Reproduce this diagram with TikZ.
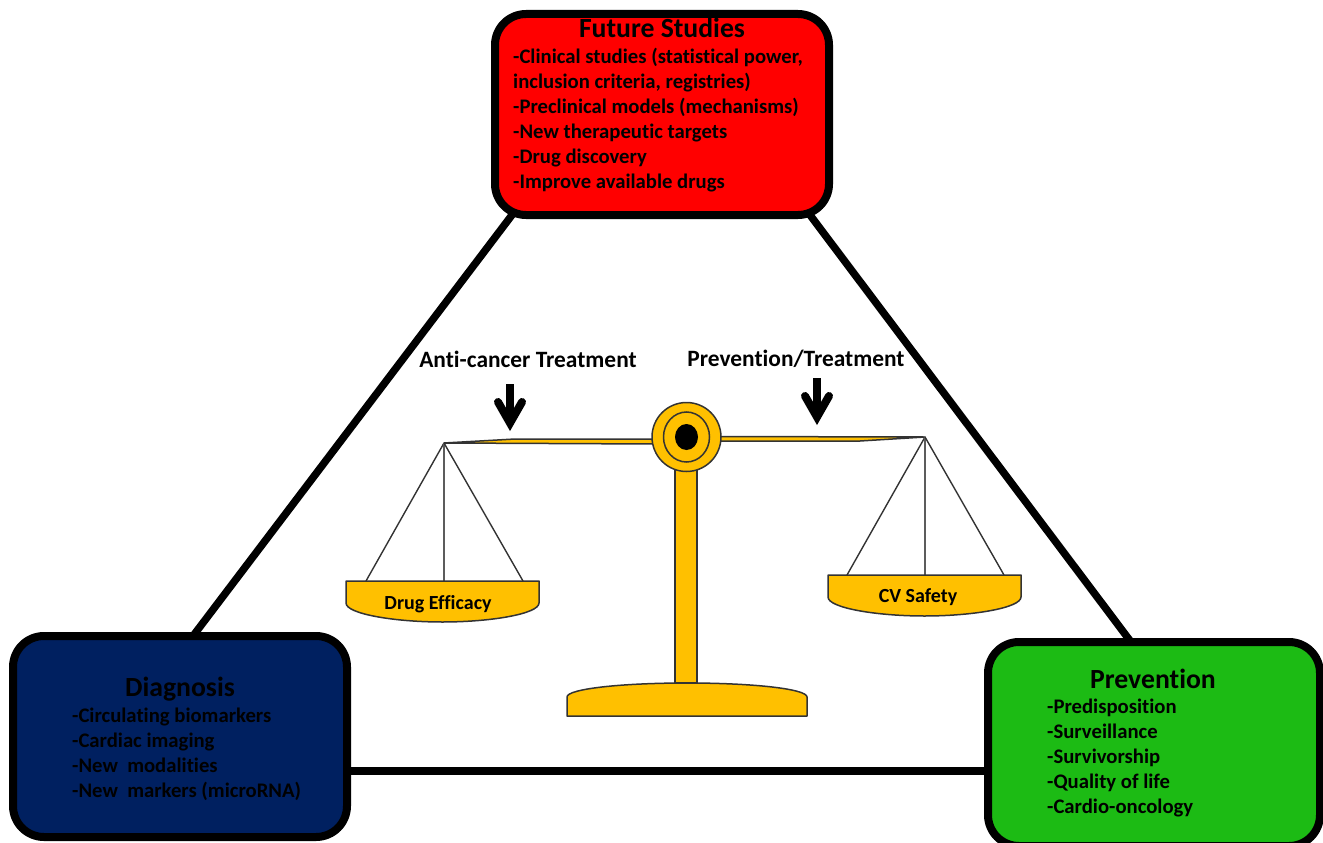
\documentclass[tikz,border=0pt]{standalone}
\usepackage{fontspec}
\setmainfont[Ligatures=NoCommon]{Carlito}
\usetikzlibrary{backgrounds,shapes.geometric}
\definecolor{boxred}{HTML}{FF0000}
\definecolor{boxblue}{HTML}{002060}
\definecolor{boxgreen}{HTML}{1CBB14}
\definecolor{gold}{HTML}{FFC000}
\definecolor{edge}{HTML}{333333}
\tikzset{
  panel/.style={draw=black,line width=8pt,rounded corners=31pt,inner sep=0pt,outer sep=0pt},
  link/.style={draw=black,line width=7.5pt},
  title/.style={inner sep=0pt,font=\fontsize{27.7}{32}\selectfont\bfseries},
  body/.style={inner sep=0pt,anchor=west,align=left,font=\fontsize{20.7}{25}\selectfont\bfseries},
  caption/.style={inner sep=0pt,font=\fontsize{23.4}{28}\selectfont\bfseries},
  pantext/.style={inner sep=0pt,font=\fontsize{20}{24}\selectfont\bfseries},
  metal/.style={fill=gold,draw=edge,line width=1.5pt,line join=round},
  wire/.style={draw=edge,line width=1.4pt},
  plumb/.style={draw=edge!80,line width=1.2pt},
  shaft/.style={draw=black,line width=8pt},
  pointer/.style={draw=black,line width=8pt,line cap=round,line join=miter}
}
\begin{document}
\begin{tikzpicture}[x=1pt,y=-1pt]
\useasboundingbox (0,0) rectangle (1323,843);
% panels
\node[panel,fill=boxred,minimum width=334pt,minimum height=201pt] (red) at (662,114.5) {};
\node[panel,fill=boxblue,minimum width=334pt,minimum height=201pt] (blue) at (180,736.5) {};
\node[panel,fill=boxgreen,minimum width=332pt,minimum height=204pt] (green) at (1154,744) {};
% connectors
\begin{pgfonlayer}{background}
\draw[link] ([xshift=17pt]red.south west) -- ([xshift=13pt]blue.north);
\draw[link] ([xshift=-19pt]red.south east) -- ([xshift=-23pt]green.north);
\draw[link] ([yshift=-34.5pt]blue.east) -- ([yshift=-27pt]green.west);
\end{pgfonlayer}
% panel texts
\node[title] (redtitle) at (662,28) {Future Studies};
\node[body] (redbody) at (513,120) {-Clinical studies (statistical power,\\inclusion criteria, registries)\\-Preclinical models (mechanisms)\\-New therapeutic targets\\-Drug discovery\\-Improve available drugs};
\node[title] (bluetitle) at (180,689) {Diagnosis};
\node[body] (bluebody) at (72,754.5) {-Circulating biomarkers\\-Cardiac imaging\\-New\ \ modalities\\-New\ \ markers (microRNA)};
\node[title] (greentitle) at (1153,679) {Prevention};
\node[body] (greenbody) at (1047,758) {-Predisposition\\-Surveillance\\-Survivorship\\-Quality of life\\-Cardio-oncology};
% balance
\coordinate (lefttip) at (444,443);
\coordinate (righttip) at (925,437);
\path[metal] (lefttip) -- (515,439) -- (655,439) -- (655,444) -- cycle;
\path[metal] (righttip) -- (860,441) -- (715,441) -- (715,436.5) -- cycle;
\path[metal] (567,716) -- (567,697) .. controls (567,689) and (620,683) .. (687,683) .. controls (754,683) and (807,689) .. (807,697) -- (807,716) -- cycle;
\path[metal] (675,683) rectangle (697,465);
\node[metal,circle,minimum size=69pt,inner sep=0pt] (hub) at (686.5,437) {};
\node[draw=edge,line width=1.5pt,ellipse,minimum width=46pt,minimum height=50pt,inner sep=0pt] (ring) at (hub) {};
\node[fill=black,draw=none,ellipse,minimum width=23pt,minimum height=26pt,inner sep=0pt] (pin) at (hub) {};
% left pan
\coordinate (la) at (366,581);
\coordinate (lb) at (444,581);
\coordinate (lc) at (523,581);
\draw[wire] (lefttip) -- (la);
\draw[plumb] (lefttip) -- (lb);
\draw[wire] (lefttip) -- (lc);
\path[metal] (346,581) -- (539,581) -- (539,603) .. controls (539,614) and (490,622) .. (442.5,622) .. controls (395,622) and (346,614) .. (346,603) -- cycle;
\node[pantext] (drug) at (438,604) {Drug Efficacy};
% right pan
\coordinate (ra) at (847,575);
\coordinate (rb) at (925,575);
\coordinate (rc) at (1004,575);
\draw[wire] (righttip) -- (ra);
\draw[plumb] (righttip) -- (rb);
\draw[wire] (righttip) -- (rc);
\path[metal] (828,575) -- (1021,575) -- (1021,597) .. controls (1021,608) and (972,616) .. (924.5,616) .. controls (877,616) and (828,608) .. (828,597) -- cycle;
\node[pantext] (cv) at (918,597) {CV Safety};
% captions and arrows
\node[caption] (anti) at (528,359) {Anti-cancer Treatment};
\node[caption] (prevt) at (796,359) {Prevention/Treatment};
\coordinate (atop) at (510,384);
\coordinate (atip) at (510,423);
\coordinate (btop) at (817,378);
\coordinate (btip) at (817,417);
\draw[shaft] (atop) -- (atip);
\draw[pointer] (498,402) -- (atip) -- (522,402);
\draw[shaft] (btop) -- (btip);
\draw[pointer] (805,396) -- (btip) -- (829,396);
\end{tikzpicture}
\end{document}
